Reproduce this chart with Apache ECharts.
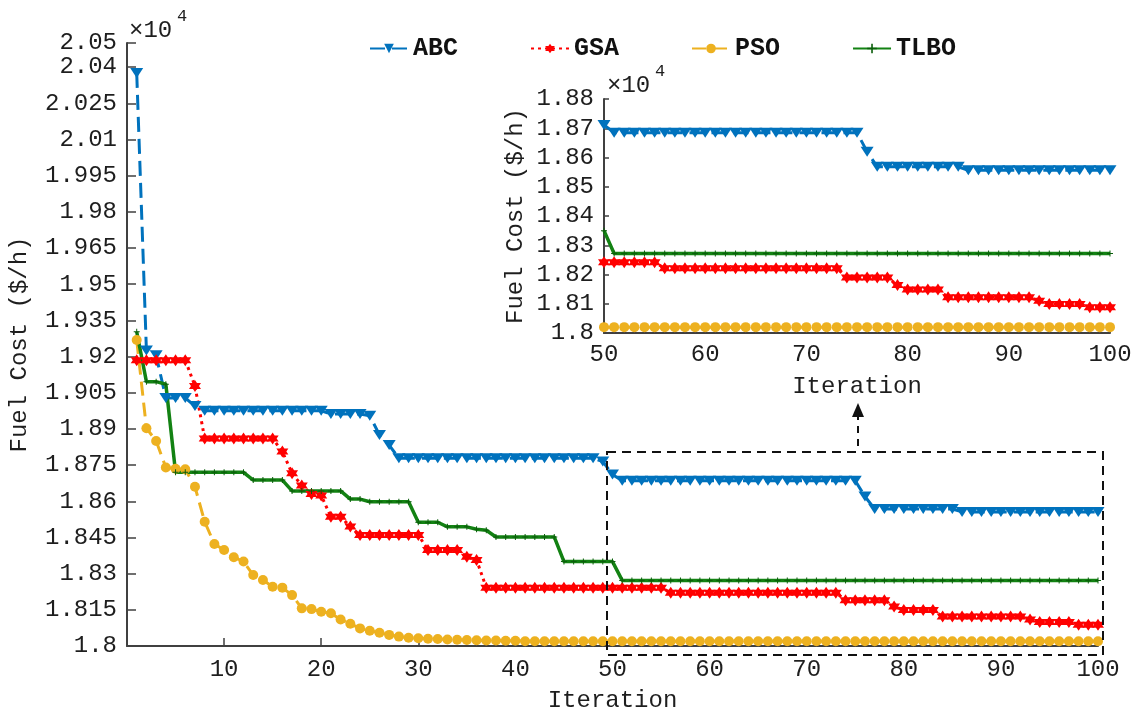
<!DOCTYPE html>
<html>
<head>
<meta charset="utf-8">
<script src="https://cdn.jsdelivr.net/npm/echarts@6/dist/echarts.min.js"></script>
<style>
  html, body { margin: 0; padding: 0; background: #fff; }
  #chart { width: 1138px; height: 711px; }
</style>
</head>
<body>
<div id="chart"></div>
<script>
// iteration numbers on the x axis
const iterations = Array.from({ length: 100 }, (_, i) => i + 1);

// best fuel cost ($/h) per iteration
const abc = [
  20376, 19225, 19205, 19028, 19028, 19028, 18995, 18975, 18975, 18975,
  18975, 18975, 18975, 18975, 18975, 18975, 18975, 18975, 18975, 18975,
  18962, 18962, 18962, 18962, 18955, 18875, 18833, 18778, 18778, 18778,
  18778, 18778, 18778, 18778, 18778, 18778, 18778, 18778, 18778, 18778,
  18778, 18778, 18778, 18778, 18778, 18778, 18778, 18778, 18765, 18711,
  18685, 18685, 18685, 18685, 18685, 18685, 18685, 18685, 18685, 18685,
  18685, 18685, 18685, 18685, 18685, 18685, 18685, 18685, 18685, 18685,
  18685, 18685, 18685, 18685, 18685, 18620, 18568, 18568, 18568, 18568,
  18568, 18568, 18568, 18568, 18568, 18556, 18556, 18556, 18556, 18556,
  18556, 18556, 18556, 18556, 18556, 18556, 18556, 18556, 18556, 18556
];
const gsa = [
  19185, 19185, 19185, 19185, 19185, 19185, 19078, 18860, 18860, 18860,
  18860, 18860, 18860, 18860, 18860, 18806, 18716, 18665, 18630, 18624,
  18536, 18536, 18495, 18460, 18460, 18460, 18460, 18460, 18460, 18460,
  18398, 18398, 18398, 18398, 18370, 18357, 18242, 18242, 18242, 18242,
  18242, 18242, 18242, 18242, 18242, 18242, 18242, 18242, 18242, 18242,
  18242, 18242, 18242, 18242, 18242, 18221, 18221, 18221, 18221, 18221,
  18221, 18221, 18221, 18221, 18221, 18221, 18221, 18221, 18221, 18221,
  18221, 18221, 18221, 18190, 18190, 18190, 18190, 18190, 18164, 18149,
  18149, 18149, 18149, 18122, 18122, 18122, 18122, 18122, 18122, 18122,
  18122, 18122, 18110, 18099, 18099, 18099, 18099, 18088, 18088, 18088
];
const pso = [
  19269, 18903, 18850, 18740, 18735, 18733, 18660, 18515, 18423, 18398,
  18368, 18350, 18294, 18274, 18246, 18242, 18211, 18156, 18153, 18142,
  18136, 18110, 18092, 18073, 18063, 18055, 18046, 18039, 18034, 18032,
  18030, 18029, 18027, 18026, 18025, 18024, 18023, 18023, 18022, 18022,
  18020, 18020, 18020, 18020, 18020, 18020, 18020, 18020, 18020, 18020,
  18020, 18020, 18020, 18020, 18020, 18020, 18020, 18020, 18020, 18020,
  18020, 18020, 18020, 18020, 18020, 18020, 18020, 18020, 18020, 18020,
  18020, 18020, 18020, 18020, 18020, 18020, 18020, 18020, 18020, 18020,
  18020, 18020, 18020, 18020, 18020, 18020, 18020, 18020, 18020, 18020,
  18020, 18020, 18020, 18020, 18020, 18020, 18020, 18020, 18020, 18020
];
const tlbo = [
  19303, 19096, 19096, 19085, 18720, 18720, 18720, 18720, 18720, 18720,
  18720, 18720, 18688, 18688, 18688, 18688, 18643, 18643, 18643, 18643,
  18643, 18643, 18609, 18609, 18598, 18598, 18598, 18598, 18598, 18513,
  18513, 18513, 18494, 18494, 18494, 18484, 18480, 18452, 18452, 18452,
  18452, 18452, 18452, 18452, 18350, 18350, 18350, 18350, 18350, 18350,
  18272, 18272, 18272, 18272, 18272, 18272, 18272, 18272, 18272, 18272,
  18272, 18272, 18272, 18272, 18272, 18272, 18272, 18272, 18272, 18272,
  18272, 18272, 18272, 18272, 18272, 18272, 18272, 18272, 18272, 18272,
  18272, 18272, 18272, 18272, 18272, 18272, 18272, 18272, 18272, 18272,
  18272, 18272, 18272, 18272, 18272, 18272, 18272, 18272, 18272, 18272
];

const FONT = "Liberation Mono";
const hexagram = "path://M0,-10 L2.887,-5 L8.66,-5 L5.774,0 L8.66,5 L2.887,5 L0,10 L-2.887,5 L-8.66,5 L-5.774,0 L-8.66,-5 L-2.887,-5 Z";
const plus = "path://M-1,-6 L1,-6 L1,-1 L6,-1 L6,1 L1,1 L1,6 L-1,6 L-1,1 L-6,1 L-6,-1 L-1,-1 Z";

const toPairs = (vals, from) =>
  iterations.map((it, i) => [it, vals[i]]).filter((p) => p[0] >= from);

const costLabel = (v) => String(+(v / 10000).toFixed(4));

const seriesDefs = [
  { name: "ABC", data: abc, color: "#0072BD", symbol: "triangle", size: [13, 10], rotate: 180, lineType: [15, 7], width: 3 },
  { name: "GSA", data: gsa, color: "#FF0000", symbol: hexagram, size: 12, rotate: 0, lineType: [3, 4], width: 3 },
  { name: "PSO", data: pso, color: "#EDB120", symbol: "circle", size: 10, rotate: 0, lineType: [14, 7], width: 3 },
  { name: "TLBO", data: tlbo, color: "#138213", symbol: plus, size: 6, rotate: 0, lineType: "solid", width: 3.5 }
];

function makeSeries(def, gridIdx, from) {
  return {
    name: def.name,
    type: "line",
    xAxisIndex: gridIdx,
    yAxisIndex: gridIdx,
    data: toPairs(def.data, from),
    symbol: def.symbol,
    symbolSize: def.size,
    symbolRotate: def.rotate,
    showAllSymbol: true,
    animation: false,
    itemStyle: { color: def.name === "TLBO" ? "#0b5e0b" : def.color },
    lineStyle: { color: def.color, width: def.width, type: def.lineType }
  };
}

const axisLineStyle = { show: true, lineStyle: { color: "#404040", width: 2 } };
const labelStyle = { color: "#1e1e1e", fontFamily: FONT, fontSize: 24 };
const nameStyle = { color: "#1e1e1e", fontFamily: FONT, fontSize: 24 };

let option = {
  backgroundColor: "#fff",
  animation: false,
  legend: {
    left: 364,
    top: 31,
    itemWidth: 38,
    itemHeight: 12,
    itemGap: 72,
    data: ["ABC", "GSA", "PSO", "TLBO"],
    textStyle: { color: "#111", fontFamily: FONT, fontSize: 25, fontWeight: "bold" }
  },
  grid: [
    { left: 127, right: 40, top: 43, bottom: 65, outerBoundsMode: "none" },
    { left: 604, right: 28, top: 99, bottom: 378, outerBoundsMode: "none" }
  ],
  xAxis: [
    {
      gridIndex: 0,
      type: "value",
      min: 0,
      max: 100,
      interval: 10,
      name: "Iteration",
      nameLocation: "middle",
      nameGap: 43,
      nameTextStyle: nameStyle,
      axisLine: axisLineStyle,
      axisTick: { inside: true, length: 8, lineStyle: { color: "#404040", width: 1.5 } },
      axisLabel: Object.assign({ margin: 12, showMinLabel: false }, labelStyle),
      splitLine: { show: false }
    },
    {
      gridIndex: 1,
      type: "value",
      min: 50,
      max: 100,
      interval: 10,
      name: "Iteration",
      nameLocation: "middle",
      nameGap: 42,
      nameTextStyle: nameStyle,
      axisLine: axisLineStyle,
      axisTick: { inside: true, length: 5, lineStyle: { color: "#404040", width: 1.5 } },
      axisLabel: Object.assign({ margin: 10 }, labelStyle),
      splitLine: { show: false }
    }
  ],
  yAxis: [
    {
      gridIndex: 0,
      type: "value",
      min: 18000,
      max: 20500,
      interval: 150,
      name: "Fuel Cost ($/h)",
      nameLocation: "middle",
      nameGap: 95,
      nameTextStyle: nameStyle,
      axisLine: axisLineStyle,
      axisTick: { inside: true, length: 9, lineStyle: { color: "#404040", width: 1.5 } },
      axisLabel: Object.assign({ margin: 10, formatter: costLabel }, labelStyle),
      splitLine: { show: false }
    },
    {
      gridIndex: 1,
      type: "value",
      min: 18000,
      max: 18800,
      interval: 100,
      name: "Fuel Cost ($/h)",
      nameLocation: "middle",
      nameGap: 76,
      nameTextStyle: nameStyle,
      axisLine: axisLineStyle,
      axisTick: { inside: true, length: 5, lineStyle: { color: "#404040", width: 1.5 } },
      axisLabel: Object.assign({ margin: 10, formatter: costLabel }, labelStyle),
      splitLine: { show: false }
    }
  ],
  series: seriesDefs.map((d) => makeSeries(d, 0, 1))
    .concat(seriesDefs.map((d) => makeSeries(d, 1, 50))),
  graphic: [
    // x10^4 exponent notes
    { type: "text", left: 129, top: 19, style: { text: "×10", font: "24px " + FONT, fill: "#1e1e1e" } },
    { type: "text", left: 177, top: 8, style: { text: "4", font: "17px " + FONT, fill: "#1e1e1e" } },
    { type: "text", left: 607, top: 74, style: { text: "×10", font: "24px " + FONT, fill: "#1e1e1e" } },
    { type: "text", left: 655, top: 63, style: { text: "4", font: "17px " + FONT, fill: "#1e1e1e" } },
    // zoom box
    {
      type: "rect",
      shape: { x: 607, y: 452, width: 496, height: 203 },
      style: { fill: "none", stroke: "#111", lineWidth: 2, lineDash: [9, 6] },
      z: 10
    },
    // arrow to inset
    {
      type: "line",
      shape: { x1: 858, y1: 446, x2: 858, y2: 414 },
      style: { stroke: "#111", lineWidth: 2, lineDash: [7, 6] },
      z: 10
    },
    {
      type: "polygon",
      shape: { points: [[852, 417], [864, 417], [858, 403]] },
      style: { fill: "#111" },
      z: 10
    }
  ]
};

let myChart = echarts.init(document.getElementById("chart"), null, { renderer: "canvas" });
myChart.setOption(option);
</script>
</body>
</html>
